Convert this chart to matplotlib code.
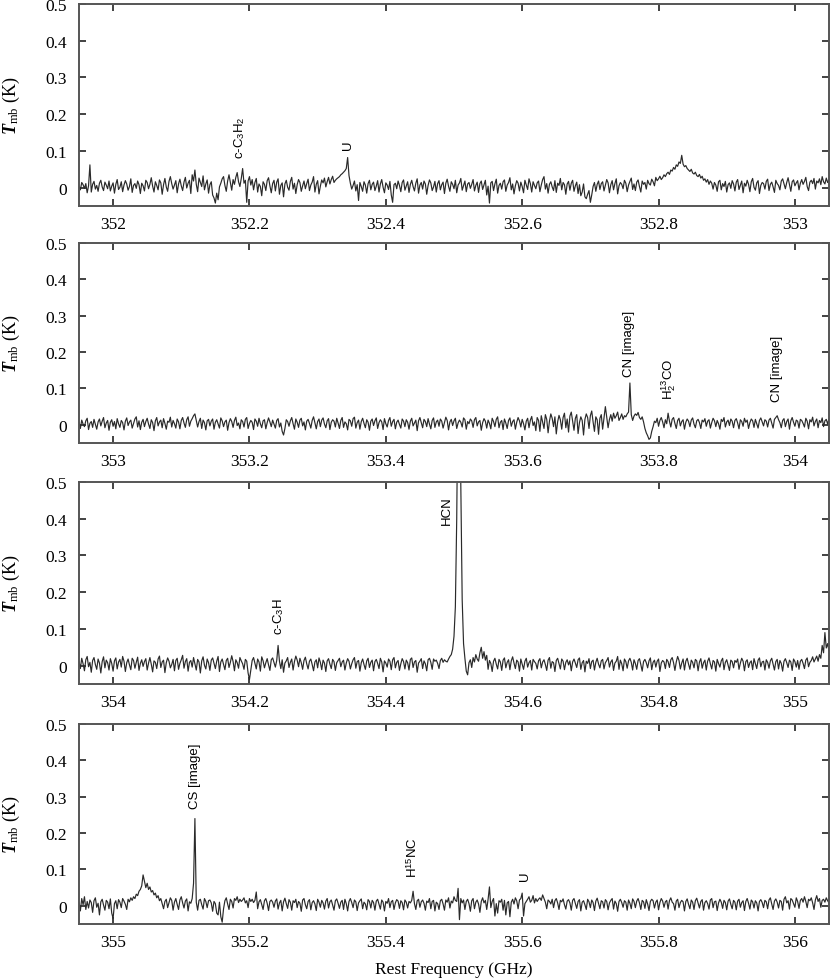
import numpy as np
import matplotlib.pyplot as plt
from matplotlib.ticker import FuncFormatter, MultipleLocator

# spectra in mK, 2 MHz channels, one list per band
chan_width = 0.002  # GHz
band_start = [351.95, 352.95, 353.95, 354.95]

tmb_band1 = [
    3, -6, 14, 8, -2, 11, -14, 5, 62, -12, 9, 17, -4, 6, -10, 12, 20, 2, -8, 15, 7, -3, 18, -9,
    4, 13, -15, 9, 22, -5, 1, 16, -11, 7, 19, 10, -7, 3, 24, -13, 6, 11, -2, 18, 8, -16, 12, 5,
    -9, 20, 14, -3, 9, 27, 4, -12, 16, 6, -6, 21, 13, -18, 8, 25, 2, -10, 17, 30, 11, -4, 7, 19,
    -14, 10, 23, 5, -8, 15, 28, -1, 12, 20, -16, 35, 18, 48, 9, -11, 26, 14, 3, 32, -6, 10, 21, -15,
    8, 16, -20, -28, -42, -15, -33, 2, 12, 24, 30, 6, -10, 18, 35, 14, -7, 22, 9, 28, 41, 16, 3, 25,
    52, 12, 20, -40, 18, 30, 7, 22, -6, 14, 25, -12, 10, 3, -22, 16, 9, -8, 19, 27, 5, -14, 11, 20,
    -9, 15, 24, -18, 6, 13, -25, 10, 20, 1, -7, 17, 28, -4, 12, -16, 8, 22, 14, -10, 5, 18, -3, 11,
    23, -8, 7, 15, 30, -12, 9, 19, -17, 4, 21, 13, 26, 2, 16, 28, 10, 22, 31, 14, 20, 24, 27, 30,
    35, 38, 42, 46, 52, 82, 33, 12, -4, 6, 18, -9, 8, -35, 14, 3, -10, 16, 7, -15, 11, 20, -6, 9,
    15, -8, 4, 19, -12, 10, 22, 1, -14, 13, 7, -5, 17, -20, -40, 8, 12, -3, 18, 6, -11, 14, 21, -7,
    5, 16, -13, 9, 20, 3, -9, 12, 24, -15, 7, 14, -4, 18, 10, -18, 6, 21, 13, -8, 2, 17, -12, 11,
    19, -6, 8, 15, -16, 12, 23, 4, -10, 16, 9, -3, 20, -14, 7, 13, 25, -7, 5, 18, -11, 10, 14, -2,
    9, 22, -9, 6, 15, -13, 11, 18, -5, 8, 20, -20, 4, -42, 13, 17, -8, 10, 23, -15, 6, 12, -4, 16,
    21, -10, 7, 14, 27, -6, 10, -17, 5, 19, 12, -9, 15, 3, -14, 20, 8, -5, 24, 11, -12, 16, 6, -3,
    13, 18, -11, 7, 22, 30, -4, 11, -15, 9, 16, 2, -8, 19, -13, 12, 6, 25, -6, 14, 8, -18, 10, 17,
    -7, 12, 20, -10, 5, 15, -16, 8, -22, -12, 10, -25, -30, -18, -8, -40, -20, 3, 14, -10, 9, 18, -5, 11,
    16, -9, 6, 22, 13, -14, 8, 19, -6, 11, 24, -17, 5, 14, 9, -3, 20, 12, -11, 7, 17, 26, -5, 10,
    -8, 15, 21, 3, -12, 18, 9, 14, -4, 20, 11, 7, 23, 16, 5, 28, 19, 24, 31, 22, 27, 35, 30, 38,
    42, 36, 48, 45, 55, 50, 62, 58, 70, 66, 88, 64, 57, 60, 52, 48, 44, 50, 40, 37, 42, 33, 30, 36,
    26, 31, 20, 24, 15, 22, 9, 18, 12, -4, 14, 7, -10, 16, 20, -6, 11, 3, 17, -12, 8, 13, -2, 19,
    10, -9, 15, 22, -5, 7, 18, -14, 12, 4, 20, 9, -11, 16, 25, 1, -7, 13, 19, -16, 6, 14, 11, -4,
    17, 23, -8, 9, 15, 2, -13, 20, 11, 6, -6, 18, 24, 10, -3, 14, 27, 8, -10, 16, 21, 5, 13, 19,
    -6, 12, 22, 9, 17, 28, 3, -8, 15, 20, 11, 25, -4, 18, 13, 24, 8, 30, 16, 10, 26, 14, 22, 18,
]

tmb_band2 = [
    6, -10, 13, 2, -5, 11, 18, -13, 4, 9, -7, 15, 1, -12, 8, 16, -3, 10, 20, -8, 5, 12, -15, 7,
    14, -4, 9, -11, 17, 3, -7, 12, 6, -14, 10, 19, -2, 8, 13, -9, 4, 16, 22, -6, 11, -13, 7, 15,
    -5, 9, 18, 2, -10, 14, 6, -16, 11, 20, -3, 8, 13, -8, 17, 4, -12, 10, 7, 21, -6, 12, 3, -9,
    16, 8, -11, 12, 20, 5, -7, 14, 22, -4, 10, 17, 25, 30, 12, -6, 9, 18, -10, 13, 6, -14, 11, 15,
    -3, 10, 16, -12, 7, 14, 2, -9, 19, 11, -5, 8, 13, -15, 6, 17, 9, -7, 12, 21, -2, 5, -11, 14,
    9, -6, 15, 20, -10, 4, 12, 7, -13, 16, 10, -4, 18, 3, -8, 11, 14, -11, 6, 19, 8, -5, 13, 2,
    -9, 12, 17, -6, 5, -18, -28, -10, 14, 9, -4, 11, 20, 3, -12, 16, 7, -7, 13, 18, -3, 8, -14, 10,
    15, 4, -9, 12, 22, 6, -11, 9, 16, -5, 13, 19, 2, -8, 11, 17, -13, 7, 14, 10, -6, 18, 5, -10,
    12, 20, -7, 8, 3, -14, 15, 11, -4, 17, 21, -9, 6, 13, -12, 9, 18, 4, -8, 14, 7, -15, 10, 16,
    -2, 11, 19, -10, 6, 14, 8, -13, 17, 3, -6, 12, 20, -4, 9, 15, -11, 7, 13, 1, -9, 16, 10, -5,
    14, 7, -12, 10, 18, -3, 5, 13, -16, 11, 20, 6, -8, 15, 9, -5, 17, 2, -11, 12, 19, -7, 8, 13,
    -4, 16, 10, -9, 6, 21, 12, -14, 8, 15, -2, 11, 18, -10, 5, 13, 7, -6, 19, 14, -12, 9, 3, 16,
    11, -7, 14, 20, -3, 8, 12, -15, 6, 17, 10, -9, 13, 4, -11, 18, 9, -5, 15, 22, -8, 7, 12, -13,
    16, 5, -10, 12, 19, -4, 9, 14, -12, 7, 20, 11, -6, 15, 3, -14, 10, 18, -8, 13, 23, -2, 8, -16,
    20, 12, -18, 25, 8, -10, 28, 15, -22, 10, 30, 18, -5, 22, -25, 8, 26, 14, -12, 20, 32, -8, 16, -20,
    24, 35, 10, -15, 18, 28, -24, 6, 22, 12, -28, 15, 30, 20, -10, 25, 38, 8, -18, 22, 14, -26, 18, 28,
    -12, 20, 50, 22, -8, 15, 28, 10, 32, 18, 25, 35, 12, 20, 30, 15, 25, 22, 30, 35, 115, 28, 12, 24,
    30, 26, 34, 20, 15, 22, 8, -10, -22, -30, -40, -36, -18, -5, 10, 6, 18, -4, 12, 20, 8, -8, 14, 3,
    32, 10, -6, 15, 20, 4, -10, 12, 18, -3, 9, 14, -12, 7, 16, 10, -5, 13, 19, 2, -8, 11, 15, 6,
    -10, 13, 8, 17, -4, 10, 14, -9, 6, 18, 11, -5, 12, 3, -12, 15, 9, 20, -6, 8, 13, -2, 16, 10,
    -8, 12, 17, 5, -11, 14, 9, -4, 18, 7, 13, -10, 6, 16, 11, -7, 15, 3, -9, 12, 19, 8, -3, 14,
    10, -6, 13, 18, 4, -9, 15, 20, 25, 14, 6, -8, 12, 17, -5, 9, 16, -12, 11, 20, 7, -4, 13, 10,
    -9, 15, 12, 4, -6, 18, 10, -11, 14, 8, 21, -3, 9, 16, -8, 12, 6, 19, -5, 11, 15, 2, 17, 9,
]

tmb_band3 = [
    12, -8, 20, 5, -14, 16, 25, -3, 9, -18, 14, 22, 3, -10, 18, 7, -20, 11, 24, -6, 15, 8, -12, 19,
    6, -15, 13, 21, -9, 10, 17, -4, 25, 12, -16, 8, 18, 2, -11, 20, 14, -7, 9, 23, -13, 6, 16, -2,
    11, 19, -12, 7, 22, 4, -17, 13, 9, -8, 18, 26, -5, 10, 15, -19, 8, 21, 12, -6, 3, 17, -14, 14,
    20, -10, 6, 16, 28, -7, 11, 19, -15, 9, 14, -4, 22, 5, -12, 17, 10, -20, 13, 24, 1, -9, 18, 8,
    -13, 15, 21, 6, -8, 12, 25, -16, 10, 18, 3, -11, 14, 20, -5, 9, 27, 11, -14, 16, 8, -7, 22, 13,
    5, -10, 17, 12, -20, -38, -12, 14, 22, 6, -9, 18, 10, -15, 24, 13, -6, 8, 19, 2, -13, 16, 21, 9,
    -4, 14, 55, 12, -8, 16, -18, 7, 13, 22, -5, 9, 18, -12, 11, 26, 15, -3, 20, 8, -10, 14, 23, 5,
    -9, 12, 18, 3, -14, 10, 16, -6, 21, 9, -11, 15, 7, -16, 13, 19, 4, -8, 17, 11, -13, 8, 14, 20,
    -3, 10, 15, -12, 7, 19, 12, -9, 5, 16, 22, -7, 11, 14, -15, 8, 18, 3, -10, 13, 20, -5, 9, 15,
    -14, 11, 17, 6, -8, 20, 10, -17, 13, 7, -4, 18, 12, -11, 16, 22, -6, 9, 14, -13, 5, 19, 11, -9,
    15, 8, -12, 17, 21, -5, 10, 14, -18, 7, 12, 19, -8, 13, 5, -14, 16, 20, 9, -10, 18, 12, 15, 6,
    -8, 14, 20, 9, 16, 12, 10, 18, 25, 30, 45, 80, 160, 400, 800, 800, 500, 180, 60, 20, -15, -25, 8, 16,
    -5, 22, 10, 30, 18, 12, 35, 50, 20, 38, 15, 28, -10, 14, 6, -16, 12, 20, 4, -9, 17, 10, -13, 15,
    21, -6, 9, 16, -11, 13, 24, 7, -8, 15, 10, -15, 18, 4, -10, 12, 20, -4, 8, 14, -12, 17, 11, 6,
    -9, 13, 19, -6, 10, 16, 3, -13, 15, 22, -7, 11, 8, -16, 14, 20, 5, -9, 18, 12, -11, 9, 16, 2,
    13, -14, 10, 18, 7, -5, 16, 21, -10, 8, 14, -17, 12, 6, 19, -8, 11, 15, -12, 9, 20, 4, -6, 13,
    17, -9, 8, 14, 22, -4, 10, 16, -13, 7, 12, 25, -10, 15, 5, -14, 18, 11, -7, 13, 20, 9, -12, 16,
    6, -10, 14, 19, 3, -15, 11, 17, 8, -6, 13, 21, -11, 9, 15, -4, 12, 18, -16, 7, 14, 10, -8, 17,
    11, -5, 16, 22, 8, -13, 10, 25, 14, -9, 7, 18, -12, 12, 20, 4, -10, 15, 9, -6, 17, 13, -14, 10,
    19, -7, 8, 15, -12, 12, 21, 5, -9, 14, 10, -15, 17, 6, -4, 13, 20, -11, 9, 16, 2, -13, 15, 11,
    -6, 14, 9, 18, -10, 7, 20, 12, -14, 11, 16, -5, 8, 13, -11, 19, 6, -8, 15, 21, -3, 10, 12, -12,
    16, 9, -7, 13, 20, 4, -12, 11, 17, -9, 14, 6, -15, 12, 19, 8, -5, 15, 10, -13, 18, 11, -4, 14,
    -10, 12, 17, 6, -8, 15, 21, -3, 9, 14, 24, 10, 18, 26, 12, 30, 20, 55, 35, 90, 48, 60, 40, 55,
]

tmb_band4 = [
    8, -14, 20, 3, 25, -10, 12, -6, 16, 9, -18, 14, 22, -4, 7, -25, 11, 18, 2, -12, 15, 10, -8, 19,
    -20, -35, 6, 14, -8, 17, 10, -5, 20, 13, 4, -10, 18, 11, 22, 15, 25, 20, 32, 28, 40, 45, 55, 85,
    68, 50, 62, 45, 52, 38, 42, 30, 35, 22, 28, 14, 20, 6, -8, 12, 18, -5, 9, 22, 15, -12, 10, 20,
    4, -10, 16, 25, 8, -6, 13, 19, -14, 11, 7, 20, 62, 240, 10, -12, 15, 18, 3, -9, 20, 12, -5, 14,
    16, 8, -15, 12, 6, -20, -25, 10, -30, -45, -8, 14, 22, 5, -10, 18, 12, -6, 20, 15, 25, 9, 18, 12,
    16, 22, 8, 14, -5, 20, 12, 18, 9, 15, 38, -8, 11, 17, 4, -10, 14, 20, 7, -13, 12, 16, 10, -4,
    13, 19, -9, 8, 15, -14, 11, 21, 6, -7, 17, 10, -12, 14, 9, 18, -5, 12, 7, -15, 16, 20, 3, -8,
    12, 17, -11, 9, 14, 5, -13, 18, 10, -4, 15, 8, -9, 13, 20, -6, 11, 16, 2, -12, 14, 19, 7, -7,
    10, 15, -10, 18, 6, -14, 12, 20, 9, -5, 16, 11, -13, 8, 14, 19, -8, 10, 5, -11, 17, 12, -6, 15,
    9, -12, 13, 18, 4, -9, 16, 10, -14, 12, 7, 20, -5, 11, 15, -10, 8, 17, 13, -7, 14, 9, -11, 16,
    10, -6, 12, 8, 15, 40, 6, -10, 14, 18, -4, 11, 16, 7, -12, 13, 9, 20, -8, 12, 15, -14, 10, 6,
    -10, 14, 18, 5, -12, 16, 10, 22, -6, 13, 8, 25, 15, 12, 48, -38, 20, 8, 16, -10, 12, 18, 6, -15,
    14, 20, -8, 10, 16, 5, -18, 12, 22, 8, 15, -10, 18, 52, -5, 12, 20, -28, 6, -20, 14, 10, 18, -12,
    15, -25, 8, 12, -30, 10, 18, 5, 22, 14, -8, 16, 20, 35, -28, 6, 12, 18, 25, 10, 15, 28, 8, 20,
    12, 18, 22, 15, 30, 20, 10, -8, 16, 12, 5, 18, -5, 14, 20, 8, -10, 15, 11, 19, 3, -9, 13, 17,
    8, -12, 15, 20, 6, -7, 12, 17, -14, 10, 14, 3, -10, 18, 11, -5, 16, 9, -13, 13, 21, 7, -8, 14,
    11, -6, 17, 12, -11, 8, 15, 20, -9, 13, 6, -15, 12, 18, 9, -4, 14, 10, -12, 16, 7, -8, 19, 12,
    -5, 13, 20, 8, -10, 15, 11, -7, 17, 5, -13, 12, 18, 14, -6, 10, 16, -11, 9, 20, 13, -4, 11, 15,
    -9, 14, 22, 10, 6, -12, 13, 18, -5, 9, 15, 11, -14, 12, 19, 4, -8, 16, 10, -10, 14, 21, 7, -6,
    12, 17, -12, 9, 14, 6, -9, 16, 20, -5, 11, 13, -13, 8, 18, 10, -7, 15, 9, -11, 13, 19, 4, -8,
    15, 10, -11, 13, 18, -4, 9, 14, -13, 12, 20, 7, -9, 16, 11, -6, 14, 8, -14, 12, 17, 9, -5, 15,
    11, -8, 16, 22, 5, -10, 13, 19, 10, -6, 15, 12, -12, 18, 25, 8, 14, -9, 20, 16, 6, -4, 22, 12,
    -7, 15, 20, 10, 25, 12, -5, 18, 14, 22, 8, -10, 16, 28, 12, 20, -4, 15, 18, 10, 22, 14, 8, 16,
]

# line identifications: (label, frequency GHz, label base K)
lines_band1 = [(r'c-C$_\mathsf{3}$H$_\mathsf{2}$', 352.186, 0.08), ('U', 352.344, 0.105)]
lines_band2 = [('CN [image]', 353.757, 0.135), (r'H$_\mathsf{2}^\mathsf{13}$CO', 353.815, 0.07),
               ('CN [image]', 353.973, 0.065)]
lines_band3 = [(r'c-C$_\mathsf{3}$H', 354.243, 0.085), ('HCN', 354.49, 0.385)]
lines_band4 = [('CS [image]', 355.12, 0.27), (r'H$^\mathsf{15}$NC', 355.44, 0.08),
               ('U', 355.604, 0.072)]

spectra = [tmb_band1, tmb_band2, tmb_band3, tmb_band4]
labels = [lines_band1, lines_band2, lines_band3, lines_band4]

plt.rcParams['font.family'] = 'Liberation Serif'
plt.rcParams['mathtext.fontset'] = 'custom'
plt.rcParams['mathtext.rm'] = 'Liberation Serif'
plt.rcParams['mathtext.it'] = 'Liberation Serif:italic'
plt.rcParams['mathtext.bf'] = 'Liberation Serif:bold'
plt.rcParams['mathtext.bfit'] = 'Liberation Serif:italic:bold'
plt.rcParams['mathtext.sf'] = 'Liberation Sans'

fig = plt.figure(figsize=(8.3, 9.79), dpi=100)
H = 979.0
panel_px = [(5, 207), (244, 444), (483, 685), (725, 925)]
left, right = 79 / 830, 829 / 830

for k in range(4):
    top, bot = panel_px[k]
    ax = fig.add_axes([left, 1 - bot / H, right - left, (bot - top) / H])
    tmb = np.array(spectra[k]) / 1000.0
    freq = band_start[k] + chan_width * np.arange(len(tmb))
    ax.plot(freq, tmb, color='#2a2a2a', lw=0.85)

    x0 = band_start[k]
    ax.set_xlim(x0, x0 + 1.1)
    ax.set_ylim(-0.05, 0.5)
    ax.xaxis.set_major_locator(MultipleLocator(0.2))
    ax.yaxis.set_major_locator(MultipleLocator(0.1))
    ax.xaxis.set_major_formatter(FuncFormatter(lambda v, p: '%g' % round(v, 3)))
    ax.yaxis.set_major_formatter(FuncFormatter(lambda v, p: '%g' % round(v, 3)))
    ax.tick_params(direction='in', length=5, width=1.2, top=True, right=True,
                   labelsize=12.5, color='#222222')
    ax.tick_params(axis='y', pad=9)
    ax.tick_params(axis='x', pad=7)
    for s in ax.spines.values():
        s.set_color('#555555')
        s.set_linewidth(1.4)
    # y label placed by hand in figure pixels, centred on the panel
    fig.text(11 / 830, 1 - (top + bot) / 2 / H, r'$\mathbfit{T}_{\rm mb}$ (K)',
             rotation=90, ha='center', va='center', fontsize=13)

    for name, f, yb in labels[k]:
        ax.text(f, yb, name, rotation=90, ha='center', va='bottom',
                fontsize=9.5, family='Liberation Sans')

ax.set_xlabel('Rest Frequency (GHz)', fontsize=12.5, labelpad=8)

fig.savefig('out.png', dpi=100)
